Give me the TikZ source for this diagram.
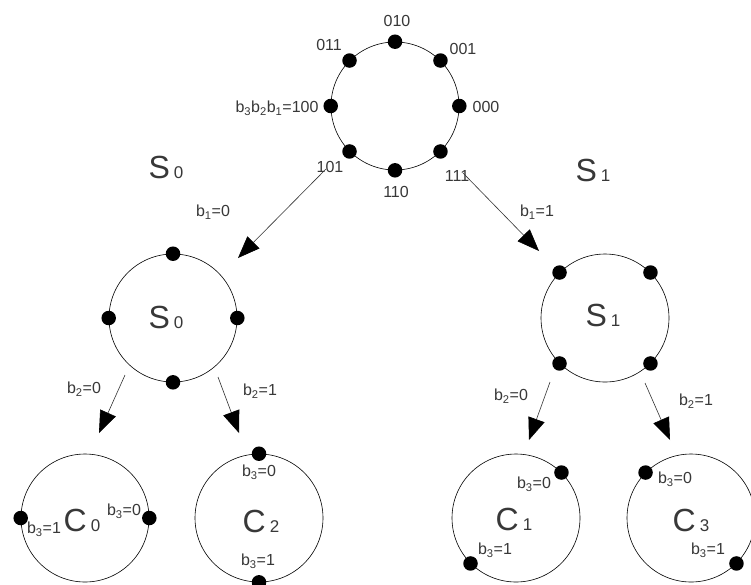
\documentclass[tikz,border=0pt]{standalone}
\usepackage{fontspec}
\setmainfont{Liberation Sans}
\usetikzlibrary{arrows.meta}
\definecolor{ink}{gray}{0.22}
\tikzset{
  ring/.style={circle, draw=black, line width=0.6pt, minimum size=128pt, inner sep=0pt},
  blob/.style={circle, fill=black, minimum size=14.5pt, inner sep=0pt},
  lbl/.style={font=\fontsize{16}{16}\selectfont, text=ink, inner sep=0pt},
  biglbl/.style={font=\fontsize{32}{32}\selectfont, text=ink, inner sep=0pt},
  flow/.style={line width=0.6pt, draw=black!80, -{Triangle[length=22pt,width=17pt,color=black,fill=black]}},
}
\newcommand\bigsub[2]{#1\hspace{4pt}{\fontsize{17}{17}\selectfont #2}}
\begin{document}
\begin{tikzpicture}[x=1pt,y=-1pt]
\useasboundingbox (0,0) rectangle (751,584);
\fill[white] (0,0) rectangle (751,584);
% circles
\node[ring] (T) at (395,106) {};
\node[ring] (L) at (173,318) {};
\node[ring] (R) at (605,318) {};
\node[ring] (C0) at (85,518) {};
\node[ring] (C2) at (259,518) {};
\node[ring] (C1) at (516,518) {};
\node[ring] (C3) at (691,518) {};
% dots
\foreach \a in {0,45,...,315} \node[blob] (t\a) at (T.\a) {};
\foreach \a in {0,90,180,270} \node[blob] (l\a) at (L.\a) {};
\foreach \a in {45,135,225,315} \node[blob] (r\a) at (R.\a) {};
\node[blob] (c0a) at (C0.180) {};
\node[blob] (c0b) at (C0.0) {};
\node[blob] (c2a) at (C2.90) {};
\node[blob] (c2b) at (C2.270) {};
\node[blob] (c1a) at (C1.45) {};
\node[blob] (c1b) at (C1.225) {};
\node[blob] (c3a) at (C3.135) {};
\node[blob] (c3b) at (C3.315) {};
% top labels
\node[lbl] (n010) at (397,21) {010};
\node[lbl] (n011) at (329,45) {011};
\node[lbl] (n001) at (463,49) {001};
\node[lbl] (n000) at (486,107) {000};
\node[lbl] (n100) at (277,108) {b\textsubscript{3}b\textsubscript{2}b\textsubscript{1}=100};
\node[lbl] (n101) at (330,167) {101};
\node[lbl] (n110) at (396,192) {110};
\node[lbl] (n111) at (457,176) {111};
% big labels
\node[biglbl] (s0top) at (166,167) {\bigsub{S}{0}};
\node[biglbl] (s1top) at (593,170) {\bigsub{S}{1}};
\node[biglbl] (s0in) at (166,317) {\bigsub{S}{0}};
\node[biglbl] (s1in) at (603,315) {\bigsub{S}{1}};
\node[biglbl] (c0l) at (82,520) {\bigsub{C}{0}};
\node[biglbl] (c2l) at (261,521) {\bigsub{C}{2}};
\node[biglbl] (c1l) at (514,519) {\bigsub{C}{1}};
\node[biglbl] (c3l) at (691,520) {\bigsub{C}{3}};
% branch labels
\node[lbl] (lb1a) at (213,212) {b\textsubscript{1}=0};
\node[lbl] (lb1b) at (537,212) {b\textsubscript{1}=1};
\node[lbl] (lb2a) at (84,389) {b\textsubscript{2}=0};
\node[lbl] (lb2b) at (260,391) {b\textsubscript{2}=1};
\node[lbl] (lb2c) at (511,396) {b\textsubscript{2}=0};
\node[lbl] (lb2d) at (696,401) {b\textsubscript{2}=1};
\node[lbl] (lc0a) at (44,529) {b\textsubscript{3}=1};
\node[lbl] (lc0b) at (124,511) {b\textsubscript{3}=0};
\node[lbl] (lc2a) at (259,472) {b\textsubscript{3}=0};
\node[lbl] (lc2b) at (258,561) {b\textsubscript{3}=1};
\node[lbl] (lc1a) at (534,484) {b\textsubscript{3}=0};
\node[lbl] (lc1b) at (495,550) {b\textsubscript{3}=1};
\node[lbl] (lc3a) at (675,479) {b\textsubscript{3}=0};
\node[lbl] (lc3b) at (708,550) {b\textsubscript{3}=1};
% connector ends
\coordinate (a1s) at (326,169); \coordinate (a1e) at (238,258);
\coordinate (a2s) at (463,173); \coordinate (a2e) at (539,251);
\coordinate (a3s) at (125,375); \coordinate (a3e) at (99,433);
\coordinate (a4s) at (218,377); \coordinate (a4e) at (239,433);
\coordinate (a5s) at (550,382); \coordinate (a5e) at (529,440);
\coordinate (a6s) at (645,383); \coordinate (a6e) at (670,440);
\draw[flow] (a1s) -- (a1e);
\draw[flow] (a2s) -- (a2e);
\draw[flow] (a3s) -- (a3e);
\draw[flow] (a4s) -- (a4e);
\draw[flow] (a5s) -- (a5e);
\draw[flow] (a6s) -- (a6e);
\end{tikzpicture}
\end{document}
